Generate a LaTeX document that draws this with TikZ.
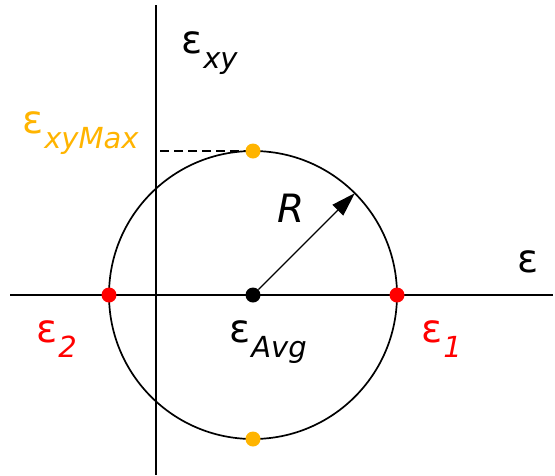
\documentclass[tikz,border=0pt]{standalone}
\usepackage{fontspec}
\setmainfont{DejaVu Sans}
\usetikzlibrary{arrows.meta}
\definecolor{maxorange}{RGB}{255,180,0}
\definecolor{princred}{RGB}{255,0,0}
\newcommand{\epsub}[1]{ε\hspace{1pt}\raisebox{-15pt}{\fontsize{29}{29}\selectfont\itshape #1}}

\begin{document}
\begin{tikzpicture}[x=1pt, y=-1pt,
    font=\fontsize{39}{39}\selectfont,
    axis/.style={line width=2pt, draw=black},
    mohrcirc/.style={circle, draw=black, line width=1.7pt, minimum size=288pt,
                     inner sep=0pt, outer sep=0pt},
    dot/.style={circle, inner sep=0pt, minimum size=15pt},
    lab/.style={anchor=base west, inner sep=0pt},
    radiusline/.style={-{Triangle[length=24pt, width=15pt]}, line width=1.2pt},
    maxline/.style={line width=1.6pt, dash pattern=on 9pt off 5pt},
  ]
  \useasboundingbox (0,0) rectangle (555,475);
  % axes
  \coordinate (xl) at (10,295);
  \coordinate (xr) at (553,295);
  \coordinate (yt) at (156,5);
  \coordinate (yb) at (156,475);
  \draw[axis] (xl) -- (xr);
  \draw[axis] (yt) -- (yb);
  % circle and points
  \node[mohrcirc] (mohr) at (253,295) {};
  \draw[maxline] (mohr.north) -- (mohr.north -| yt);
  \node[dot, fill=black]     (avg)  at (mohr.center) {};
  \node[dot, fill=princred]  (p1)   at (mohr.east)   {};
  \node[dot, fill=princred]  (p2)   at (mohr.west)   {};
  \node[dot, fill=maxorange] (ptop) at (mohr.north)  {};
  \node[dot, fill=maxorange] (pbot) at (mohr.south)  {};
  \draw[radiusline] (avg) -- (mohr.45);
  % labels
  \node[lab] (exy) at (181,53) {\epsub{xy}};
  \node[lab] (eps) at (517,272) {ε};
  \node[lab, text=maxorange] (exymax) at (22,133) {\epsub{xyMax}};
  \node[lab] (rlab) at (277,222) {\itshape R};
  \node[lab] (eavg) at (229,342) {\epsub{Avg}};
  \node[lab, text=princred] (e1) at (421,342) {\epsub{1}};
  \node[lab, text=princred] (e2) at (36,342) {\epsub{2}};
\end{tikzpicture}
\end{document}
